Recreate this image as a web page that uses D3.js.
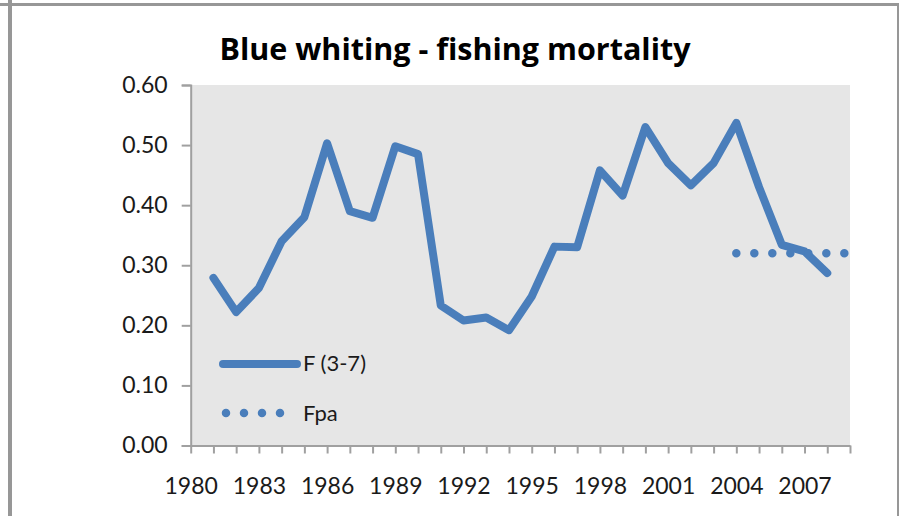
<html>
<head>
<meta charset="utf-8">
<script src="https://d3js.org/d3.v7.min.js"></script>
<style>
  body { margin: 0; background: #fff; }
  svg { display: block; font-family: Lato, "Noto Sans", sans-serif; }
</style>
</head>
<body>
<svg width="899" height="516"></svg>
<script>
// data
var years = d3.range(1980, 2010);
var fYears = [1981,1982,1983,1984,1985,1986,1987,1988,1989,1990,1991,1992,1993,1994,1995,
              1996,1997,1998,1999,2000,2001,2002,2003,2004,2005,2006,2007,2008];
var fValues = [0.279,0.222,0.262,0.340,0.380,0.503,0.390,0.379,0.498,0.485,0.233,0.208,0.213,0.192,0.248,
               0.331,0.330,0.458,0.416,0.530,0.470,0.433,0.470,0.537,0.430,0.334,0.323,0.287];
var fpaYears = [2004,2005,2006,2007,2008,2009];
var fpaValues = [0.32,0.32,0.32,0.32,0.32,0.32];
var labelYears = [1980,1983,1986,1989,1992,1995,1998,2001,2004,2007];
var yTicks = [0,0.1,0.2,0.3,0.4,0.5,0.6];

var svg = d3.select("svg");
var blue = "#4a7ebb";
var axisCol = "#a0a0a0";

// outer frame
svg.append("line").attr("x1",0).attr("x2",899).attr("y1",4.5).attr("y2",4.5)
  .attr("stroke","#979797").attr("stroke-width",3);
svg.append("line").attr("x1",10).attr("x2",10).attr("y1",0).attr("y2",516)
  .attr("stroke","#979797").attr("stroke-width",4);
svg.append("line").attr("x1",898).attr("x2",898).attr("y1",3).attr("y2",516)
  .attr("stroke","#979797").attr("stroke-width",2);

var x = d3.scalePoint().domain(years).range([190.7, 850]);
var y = d3.scaleLinear().domain([0, 0.6]).range([445.5, 85]);

// plot background
svg.append("rect")
  .attr("x", x(1980)).attr("y", y(0.6))
  .attr("width", x(2009) - x(1980)).attr("height", y(0) - y(0.6))
  .attr("fill", "#e6e6e6");

// title
svg.append("text")
  .attr("x", 455).attr("y", 60)
  .attr("text-anchor", "middle")
  .attr("font-family", "'Open Sans', sans-serif")
  .attr("font-size", 30.5).attr("font-weight", "bold")
  .attr("fill", "#000")
  .text("Blue whiting - fishing mortality");

// y axis
var yAxis = svg.append("g")
  .attr("transform", "translate(" + x(1980) + ",0)")
  .call(d3.axisLeft(y).tickValues(yTicks).tickFormat(d3.format(".2f")).tickSize(9).tickPadding(14));
yAxis.select(".domain").attr("stroke", axisCol).attr("stroke-width", 2);
yAxis.selectAll(".tick line").attr("stroke", axisCol).attr("stroke-width", 2);
yAxis.selectAll("text").attr("font-size", 23).attr("fill", "#1a1a1a").attr("font-family", "Lato, sans-serif");

// x axis
var xAxis = svg.append("g")
  .attr("transform", "translate(0," + y(0) + ")")
  .call(d3.axisBottom(x).tickValues(years)
    .tickFormat(function(d){ return labelYears.indexOf(d) >= 0 ? d : ""; })
    .tickSize(8).tickPadding(24).tickSizeOuter(0));
xAxis.select(".domain").attr("stroke", axisCol).attr("stroke-width", 2);
xAxis.selectAll(".tick line").attr("stroke", axisCol).attr("stroke-width", 2);
xAxis.selectAll("text").attr("font-size", 23).attr("fill", "#1a1a1a").attr("font-family", "Lato, sans-serif");

// F(3-7) line
var line = d3.line().x(function(d){ return x(d[0]); }).y(function(d){ return y(d[1]); });
svg.append("path")
  .datum(d3.zip(fYears, fValues))
  .attr("d", line)
  .attr("fill", "none").attr("stroke", blue).attr("stroke-width", 8)
  .attr("stroke-linejoin", "round").attr("stroke-linecap", "round");

// Fpa dotted line
svg.append("path")
  .datum(d3.zip(fpaYears, fpaValues))
  .attr("d", line)
  .attr("fill", "none").attr("stroke", blue).attr("stroke-width", 8.5)
  .attr("stroke-linecap", "round").attr("stroke-dasharray", "0 18");

// legend
var leg = svg.append("g");
leg.append("line").attr("x1", 223).attr("x2", 297).attr("y1", 364).attr("y2", 364)
  .attr("stroke", blue).attr("stroke-width", 8).attr("stroke-linecap", "round");
leg.append("text").attr("x", 303).attr("y", 371).attr("font-size", 22).attr("fill", "#1a1a1a").text("F (3-7)");
leg.append("line").attr("x1", 226).attr("x2", 281).attr("y1", 413).attr("y2", 413)
  .attr("stroke", blue).attr("stroke-width", 8.5).attr("stroke-linecap", "round").attr("stroke-dasharray", "0 18");
leg.append("text").attr("x", 303).attr("y", 421).attr("font-size", 22).attr("fill", "#1a1a1a").text("Fpa");
</script>
</body>
</html>
